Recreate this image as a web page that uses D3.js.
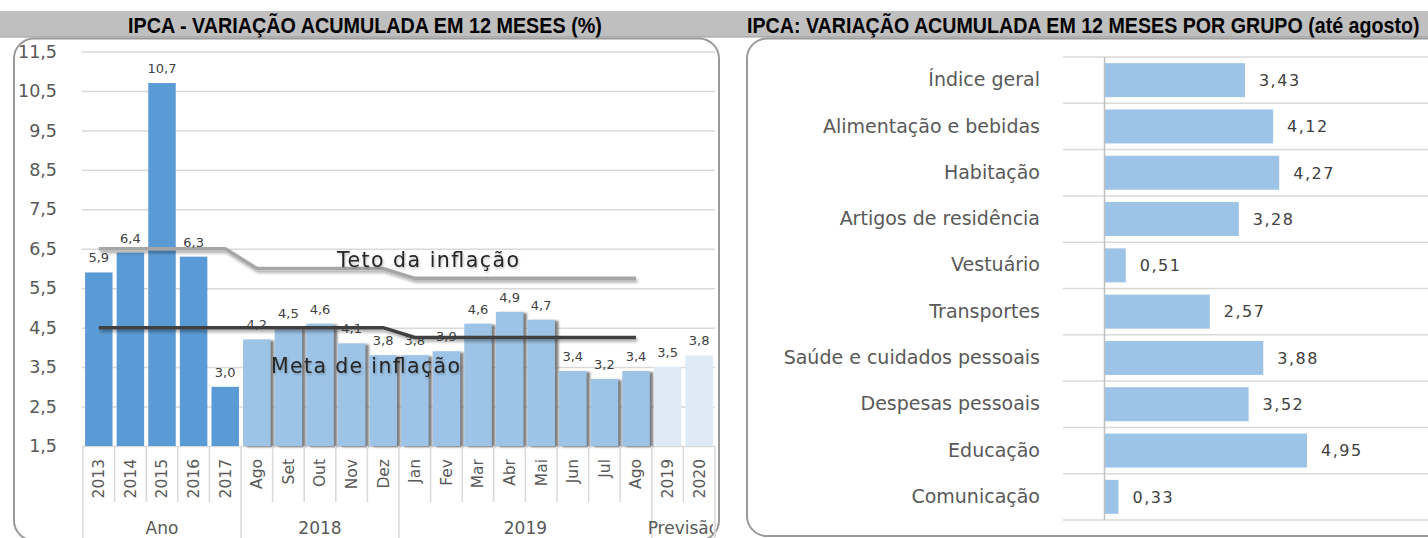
<!DOCTYPE html>
<html lang="pt-BR">
<head>
<meta charset="utf-8">
<script src="https://cdn.jsdelivr.net/npm/d3@7"></script>
<style>
  html, body { margin: 0; padding: 0; background: #ffffff; }
  svg { display: block; }
</style>
</head>
<body>
<svg id="chart" width="1428" height="538"></svg>
<script>
// ---- IPCA: accumulated 12-month variation (%) ----
const periodLabels = ["2013","2014","2015","2016","2017",
                      "Ago","Set","Out","Nov","Dez",
                      "Jan","Fev","Mar","Abr","Mai","Jun","Jul","Ago",
                      "2019","2020"];
const periodValues = [5.9, 6.4, 10.7, 6.3, 3.0,
                      4.2, 4.5, 4.6, 4.1, 3.8,
                      3.8, 3.9, 4.6, 4.9, 4.7, 3.4, 3.2, 3.4,
                      3.5, 3.8];
const periodGroupNames = ["Ano", "2018", "2019", "Previsão"];
const periodGroupSizes = [5, 5, 8, 2];
// inflation target band (upper limit and centre) for the observed periods
const tetoValues = [6.5, 6.5, 6.5, 6.5, 6.5,
                    6.0, 6.0, 6.0, 6.0, 6.0,
                    5.75, 5.75, 5.75, 5.75, 5.75, 5.75, 5.75, 5.75];
const metaValues = [4.5, 4.5, 4.5, 4.5, 4.5,
                    4.5, 4.5, 4.5, 4.5, 4.5,
                    4.25, 4.25, 4.25, 4.25, 4.25, 4.25, 4.25, 4.25];
const yTickValues = [1.5, 2.5, 3.5, 4.5, 5.5, 6.5, 7.5, 8.5, 9.5, 10.5, 11.5];

// ---- IPCA by group, 12 months to August ----
const groupNames = ["Índice geral", "Alimentação e bebidas", "Habitação",
                    "Artigos de residência", "Vestuário", "Transportes",
                    "Saúde e cuidados pessoais", "Despesas pessoais",
                    "Educação", "Comunicação"];
const groupValues = [3.43, 4.12, 4.27, 3.28, 0.51, 2.57, 3.88, 3.52, 4.95, 0.33];

const comma = (v, d) => d3.format("." + d + "f")(v).replace(".", ",");

const svg = d3.select("#chart");
const defs = svg.append("defs");

const barShadow = defs.append("filter").attr("id", "barShadow")
  .attr("x", "-20%").attr("y", "-10%").attr("width", "160%").attr("height", "130%");
barShadow.append("feDropShadow").attr("dx", 3.5).attr("dy", 1)
  .attr("stdDeviation", 0.9).attr("flood-color", "#707070").attr("flood-opacity", 0.9);

const lineShadow = defs.append("filter").attr("id", "lineShadow")
  .attr("x", "-5%").attr("y", "-100%").attr("width", "110%").attr("height", "300%");
lineShadow.append("feDropShadow").attr("dx", 1.5).attr("dy", 2.5)
  .attr("stdDeviation", 1.6).attr("flood-color", "#000").attr("flood-opacity", 0.35);

const textShadow = defs.append("filter").attr("id", "textShadow")
  .attr("x", "-5%").attr("y", "-30%").attr("width", "110%").attr("height", "160%");
textShadow.append("feDropShadow").attr("dx", 1).attr("dy", 1.5)
  .attr("stdDeviation", 1).attr("flood-color", "#000").attr("flood-opacity", 0.25);

defs.append("clipPath").attr("id", "leftClip")
  .append("rect").attr("x", 14).attr("y", 38).attr("width", 699).attr("height", 500);

// ---- title band ----
svg.append("rect").attr("x", 0).attr("y", 11).attr("width", 1428).attr("height", 26)
  .attr("fill", "#bfbfbf");
svg.append("line").attr("x1", 0).attr("x2", 1428).attr("y1", 37).attr("y2", 37)
  .attr("stroke", "#9a9a9a").attr("stroke-width", 1);

// condensed bold titles: measured, then squeezed horizontally to their span
const titleFont = "'Liberation Sans Narrow', 'Liberation Sans', Arial, sans-serif";
function title(x0, width, str) {
  const t = svg.append("text")
    .style("font-family", titleFont).style("font-weight", "bold").style("font-size", "22px")
    .attr("fill", "#000").text(str);
  const w = t.node().getComputedTextLength();
  t.attr("transform", `translate(${x0},32.5) scale(${width / w},1)`);
}
title(128, 474, "IPCA - VARIAÇÃO ACUMULADA EM 12 MESES (%)");
title(747, 673, "IPCA: VARIAÇÃO ACUMULADA EM 12 MESES POR GRUPO (até agosto)");

// ---- panel frames ----
svg.append("rect").attr("x", 14).attr("y", 38.5).attr("width", 705).attr("height", 502)
  .attr("rx", 20).attr("ry", 20).attr("fill", "none")
  .attr("stroke", "#9a9a9a").attr("stroke-width", 2);
svg.append("rect").attr("x", 747).attr("y", 38.5).attr("width", 700).attr("height", 497.5)
  .attr("rx", 20).attr("ry", 20).attr("fill", "none")
  .attr("stroke", "#9a9a9a").attr("stroke-width", 2);

// =============== left chart ===============
const font = "'DejaVu Sans', Verdana, sans-serif";
const L = { left: 83, right: 715, top: 51.5, bottom: 446 };
const idx = d3.range(periodLabels.length);
const x = d3.scaleBand().domain(idx).range([L.left, L.right])
  .paddingInner(0.13).paddingOuter(0.065);
const y = d3.scaleLinear().domain([1.5, 11.5]).range([L.bottom, L.top]);
const step = x.step();

// group index for every period
const groupOf = [];
periodGroupSizes.forEach((n, g) => { for (let k = 0; k < n; k++) groupOf.push(g); });
const groupStart = periodGroupSizes.map((n, g) => d3.sum(periodGroupSizes.slice(0, g)));

// gridlines
svg.append("g").attr("transform", `translate(${L.left - 1},0)`)
  .call(d3.axisLeft(y).tickValues(yTickValues).tickSize(-(L.right - L.left + 1)).tickFormat(""))
  .call(g => g.select(".domain").remove())
  .call(g => g.selectAll("line").attr("stroke", "#d9d9d9").attr("stroke-width", 1.5));

// y tick labels
svg.append("g").attr("transform", `translate(${L.left},0)`)
  .call(d3.axisLeft(y).tickValues(yTickValues).tickSize(0).tickPadding(26)
        .tickFormat(d => comma(d, 1)))
  .call(g => g.select(".domain").remove())
  .call(g => g.selectAll("text").style("font-family", font).style("font-size", "17.5px")
        .attr("fill", "#595959"));

// bars
const barFill = ["#5b9bd5", "#9dc3e6", "#9dc3e6", "#deebf7"];
svg.append("g").selectAll("rect").data(idx).join("rect")
  .attr("x", i => x(i))
  .attr("y", i => y(periodValues[i]))
  .attr("width", x.bandwidth())
  .attr("height", i => y(1.5) - y(periodValues[i]))
  .attr("fill", i => barFill[groupOf[i]])
  .attr("filter", i => (groupOf[i] === 1 || groupOf[i] === 2) ? "url(#barShadow)" : null);

// target lines
const lineGen = d3.line().x((d, i) => x(i) + x.bandwidth() / 2).y(d => y(d));
svg.append("path").datum(tetoValues).attr("d", lineGen)
  .attr("fill", "none").attr("stroke", "#a6a6a6").attr("stroke-width", 3.5)
  .attr("filter", "url(#lineShadow)");
svg.append("path").datum(metaValues).attr("d", lineGen)
  .attr("fill", "none").attr("stroke", "#404040").attr("stroke-width", 3.5)
  .attr("filter", "url(#lineShadow)");

svg.append("text").attr("x", 337).attr("y", 266.5)
  .attr("textLength", 182).attr("lengthAdjust", "spacing")
  .attr("filter", "url(#textShadow)")
  .style("font-family", font).style("font-size", "20.5px").attr("fill", "#262626")
  .text("Teto  da inflação");
svg.append("text").attr("x", 271).attr("y", 373)
  .attr("textLength", 189).attr("lengthAdjust", "spacing")
  .attr("filter", "url(#textShadow)")
  .style("font-family", font).style("font-size", "20.5px").attr("fill", "#262626")
  .text("Meta  de  inflação");

// value labels
svg.append("g").selectAll("text").data(idx).join("text")
  .attr("x", i => x(i) + x.bandwidth() / 2)
  .attr("y", i => y(periodValues[i]) - 10)
  .attr("text-anchor", "middle")
  .style("font-family", font).style("font-size", "13px")
  .attr("fill", "#404040")
  .text(i => comma(periodValues[i], 1));

// x axis: category labels, separators and group labels
const xAxis = svg.append("g");
xAxis.selectAll("line.sep").data(d3.range(periodLabels.length + 1)).join("line")
  .attr("class", "sep")
  .attr("x1", k => L.left + k * step).attr("x2", k => L.left + k * step)
  .attr("y1", L.bottom)
  .attr("y2", k => (groupStart.includes(k) || k === periodLabels.length) ? 538 : 502)
  .attr("stroke", "#d9d9d9").attr("stroke-width", 1.5);

xAxis.selectAll("text.tick").data(idx).join("text")
  .attr("class", "tick")
  .attr("transform", i => `translate(${x(i) + x.bandwidth() / 2},459) rotate(-90)`)
  .attr("text-anchor", "end").attr("dy", "0.35em")
  .style("font-family", font).style("font-size", "15.5px").attr("fill", "#595959")
  .text(i => periodLabels[i]);

xAxis.append("g").attr("clip-path", "url(#leftClip)")
  .selectAll("text").data(periodGroupNames).join("text")
  .attr("x", (d, g) => L.left + (groupStart[g] + periodGroupSizes[g] / 2) * step)
  .attr("y", 534)
  .attr("text-anchor", "middle")
  .style("font-family", font).style("font-size", "17px").attr("fill", "#595959")
  .text(d => d);

// =============== right chart ===============
const R = { axis: 1105, top: 57, bottom: 520, gridLeft: 1063, gridRight: 1428 };
const yb = d3.scaleBand().domain(groupNames).range([R.top, R.bottom])
  .paddingInner(0.266).paddingOuter(0.133);
const xr = d3.scaleLinear().domain([0, 7.5]).range([R.axis, R.axis + 7.5 * 40.8]);

svg.append("g").selectAll("line").data(d3.range(groupNames.length + 1)).join("line")
  .attr("x1", R.gridLeft).attr("x2", R.gridRight)
  .attr("y1", k => R.top + k * yb.step()).attr("y2", k => R.top + k * yb.step())
  .attr("stroke", "#d9d9d9").attr("stroke-width", 1.5);

svg.append("line").attr("x1", R.axis - 0.5).attr("x2", R.axis - 0.5)
  .attr("y1", R.top).attr("y2", R.top + groupNames.length * yb.step())
  .attr("stroke", "#bfbfbf").attr("stroke-width", 1.5);

svg.append("g").selectAll("rect").data(groupNames).join("rect")
  .attr("x", R.axis)
  .attr("y", d => yb(d))
  .attr("width", (d, i) => xr(groupValues[i]) - R.axis)
  .attr("height", yb.bandwidth())
  .attr("fill", "#9dc3e6");

svg.append("g").attr("transform", `translate(${R.axis},0)`)
  .call(d3.axisLeft(yb).tickSize(0).tickPadding(65))
  .call(g => g.select(".domain").remove())
  .call(g => g.selectAll("text").style("font-family", font).style("font-size", "19px")
        .attr("fill", "#595959"));

svg.append("g").selectAll("text").data(groupNames).join("text")
  .attr("x", (d, i) => xr(groupValues[i]) + 14)
  .attr("y", d => yb(d) + yb.bandwidth() / 2)
  .attr("dy", "0.36em")
  .style("font-family", font).style("font-size", "16px").style("letter-spacing", "1.5px")
  .attr("fill", "#404040")
  .text((d, i) => comma(groupValues[i], 2));
</script>
</body>
</html>
